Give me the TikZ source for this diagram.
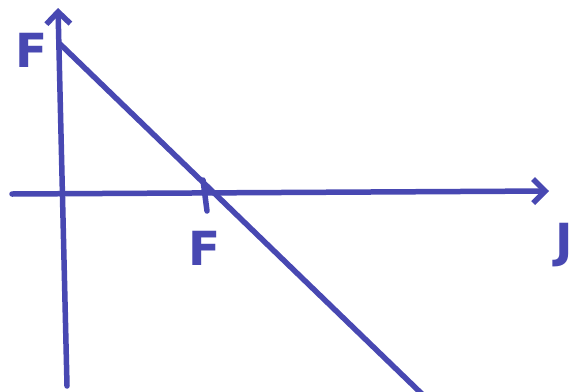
\documentclass[tikz,border=0pt]{standalone}
\usepackage{fontspec}
\setmainfont{DejaVu Sans}
\usetikzlibrary{arrows.meta}
\definecolor{pen}{RGB}{72,72,178}
\begin{document}
\begin{tikzpicture}[x=1pt,y=-1pt,
  pen/.style={draw=pen,line width=5.5pt,line cap=round},
  arr/.style={pen,-{Straight Barb[length=12pt,width=24pt,line width=5.5pt]}},
  lbl/.style={text=pen,font=\fontsize{47}{47}\bfseries\selectfont,inner sep=0pt}]
\useasboundingbox (0,0) rectangle (585,391);
\fill[white] (0,0) rectangle (585,391);
\coordinate (vb) at (67,386);
\coordinate (vt) at (58,8);
\coordinate (hl) at (12,194);
\coordinate (hr) at (549,191);
\coordinate (dt) at (60,44);
\coordinate (db) at (422,394);
\coordinate (t1) at (203,180);
\coordinate (t2) at (207,211);
\draw[arr] (vb) -- (vt);
\draw[arr] (hl) -- (hr);
\draw[pen] (dt) -- (db);
\draw[pen] (t1) -- (t2);
\node[lbl] (f1) at (32,50) {F};
\node[lbl] (f2) at (205,248) {F};
\node[lbl] (j) at (564,245) {J};
\end{tikzpicture}
\end{document}
